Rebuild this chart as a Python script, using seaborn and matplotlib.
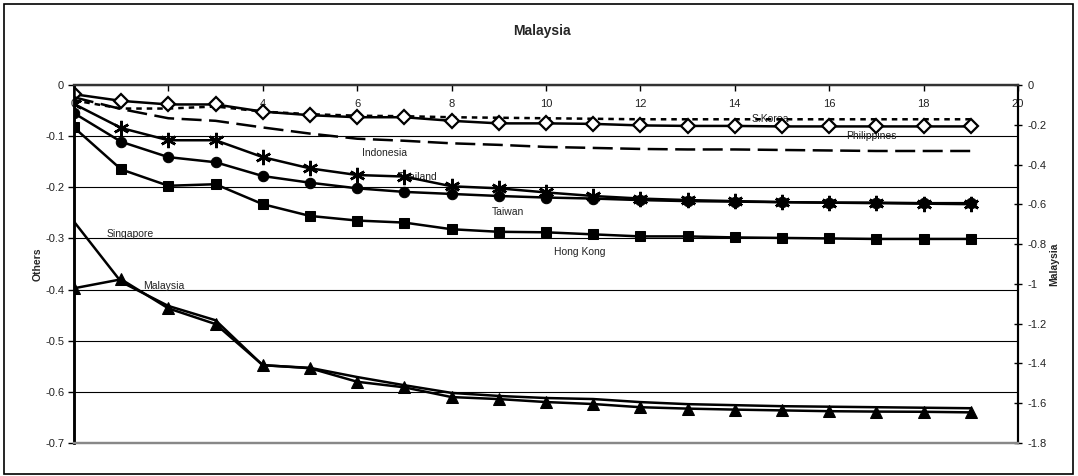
import matplotlib
matplotlib.use("Agg")
import matplotlib.pyplot as plt
from matplotlib.patches import Rectangle
import seaborn as sns

# ---- data -------------------------------------------------------------
periods = list(range(20))

s_korea = [-0.030, -0.046, -0.046, -0.042, -0.052, -0.057, -0.060, -0.061, -0.063, -0.064,
           -0.065, -0.066, -0.067, -0.067, -0.067, -0.067, -0.067, -0.067, -0.067, -0.067]
philippines = [-0.018, -0.031, -0.038, -0.038, -0.052, -0.059, -0.063, -0.063, -0.070, -0.075,
               -0.075, -0.076, -0.079, -0.080, -0.080, -0.081, -0.081, -0.081, -0.081, -0.081]
indonesia = [-0.024, -0.047, -0.065, -0.070, -0.083, -0.095, -0.105, -0.109, -0.114, -0.117,
             -0.121, -0.123, -0.125, -0.126, -0.126, -0.127, -0.128, -0.129, -0.129, -0.129]
thailand = [-0.037, -0.084, -0.108, -0.108, -0.141, -0.163, -0.176, -0.179, -0.198, -0.202,
            -0.210, -0.217, -0.222, -0.225, -0.227, -0.229, -0.230, -0.231, -0.232, -0.233]
taiwan = [-0.055, -0.111, -0.141, -0.151, -0.178, -0.191, -0.202, -0.209, -0.213, -0.217,
          -0.220, -0.222, -0.225, -0.227, -0.228, -0.229, -0.230, -0.230, -0.231, -0.231]
hong_kong = [-0.083, -0.165, -0.197, -0.194, -0.233, -0.256, -0.265, -0.269, -0.282, -0.287,
             -0.288, -0.292, -0.296, -0.296, -0.298, -0.299, -0.300, -0.301, -0.301, -0.301]
singapore = [-0.267, -0.385, -0.432, -0.460, -0.548, -0.553, -0.571, -0.587, -0.602, -0.608,
             -0.612, -0.614, -0.620, -0.624, -0.626, -0.628, -0.629, -0.630, -0.631, -0.632]
# Malaysia is read on the right-hand axis
malaysia = [-1.022, -0.977, -1.123, -1.202, -1.408, -1.424, -1.492, -1.520, -1.569, -1.579,
            -1.594, -1.604, -1.620, -1.627, -1.632, -1.636, -1.640, -1.642, -1.643, -1.646]

left_ticks = [0, -0.1, -0.2, -0.3, -0.4, -0.5, -0.6, -0.7]
left_tick_labels = ["0", "-0.1", "-0.2", "-0.3", "-0.4", "-0.5", "-0.6", "-0.7"]
right_ticks = [0, -0.2, -0.4, -0.6, -0.8, -1.0, -1.2, -1.4, -1.6, -1.8]
right_tick_labels = ["0", "-0.2", "-0.4", "-0.6", "-0.8", "-1", "-1.2", "-1.4", "-1.6", "-1.8"]
x_ticks = list(range(0, 21, 2))

series_names = ["S.Korea", "Philippines", "Indonesia", "Thailand", "Taiwan",
                "Hong Kong", "Singapore", "Malaysia"]

# ---- style --------------------------------------------------------------
sns.set_theme(style="white")
plt.rcParams["font.family"] = ["Liberation Sans", "DejaVu Sans"]

fig = plt.figure(figsize=(10.78, 4.76), dpi=100)
ax = fig.add_axes([0.0686, 0.0693, 0.8757, 0.7521])
ax2 = ax.twinx()

line_kw = dict(color="black", linewidth=1.8, legend=False)

left_series = [
    (s_korea, dict(marker=None)),
    (philippines, dict(marker="D", markersize=7, markerfacecolor="white",
                       markeredgecolor="black", markeredgewidth=1.6)),
    (indonesia, dict(marker=None)),
    (thailand, dict(marker=(6, 2, 0), markersize=11, markeredgewidth=1.8,
                    markeredgecolor="black")),
    (taiwan, dict(marker="o", markersize=7.5, markeredgecolor="black",
                  markerfacecolor="black")),
    (hong_kong, dict(marker="s", markersize=7.5, markeredgecolor="black",
                     markerfacecolor="black")),
    (singapore, dict(marker=None)),
]

for vals, kw in left_series:
    sns.lineplot(x=periods, y=vals, ax=ax, zorder=3, **line_kw, **kw)

lines = ax.get_lines()
lines[0].set_dashes((2.2, 2.0))   # S.Korea dotted
lines[2].set_dashes((8.0, 3.0))   # Indonesia long dash

sns.lineplot(x=periods, y=malaysia, ax=ax2, marker="^", markersize=8,
             markeredgecolor="black", markerfacecolor="black", zorder=3, **line_kw)

# ---- axes ---------------------------------------------------------------
ax.set_xlim(0, 20)
ax.set_ylim(-0.7, 0)
ax2.set_ylim(-1.8, 0)

ax.set_yticks(left_ticks)
ax.set_yticklabels(left_tick_labels)
ax2.set_yticks(right_ticks)
ax2.set_yticklabels(right_tick_labels)
ax.set_xticks(x_ticks)
ax.set_xticklabels([str(t) for t in x_ticks])

ax.xaxis.tick_top()
ax.tick_params(axis="x", which="both", direction="in", length=4, width=1,
               color="black", labelsize=8, labelcolor="#222222", pad=-17,
               top=True, bottom=False, labeltop=True, labelbottom=False)
ax.tick_params(axis="y", direction="out", length=4, width=1, color="black",
               labelsize=8, labelcolor="#222222", pad=3, left=True)
ax2.tick_params(axis="y", direction="inout", length=6, width=1, color="black",
                labelsize=8, labelcolor="#222222", pad=4, right=True)
ax.xaxis.set_zorder(1)

ax.grid(axis="y", color="black", linewidth=0.8)
ax.grid(axis="x", visible=False)
ax2.grid(False)
ax.set_axisbelow(True)

for a in (ax, ax2):
    a.spines["top"].set_color("#333333")
    a.spines["top"].set_linewidth(1.6)
    a.spines["bottom"].set_color("#888888")
    a.spines["bottom"].set_linewidth(1.6)
    a.spines["left"].set_color("black")
    a.spines["left"].set_linewidth(1.8)
    a.spines["right"].set_color("black")
    a.spines["right"].set_linewidth(1.5)
ax.patch.set_visible(False)

ax.set_ylabel("Others", fontsize=7.5, fontweight="bold", labelpad=2)
ax2.set_ylabel("Malaysia", fontsize=7.5, fontweight="bold", labelpad=2)
ax.set_xlabel("")

fig.text(0.503, 0.934, "Malaysia", ha="center", va="center",
         fontsize=10, fontweight="bold")

# ---- series name labels ----------------------------------------------
label_positions = [(14.75, -0.0665), (16.9, -0.100), (6.57, -0.132), (7.29, -0.180),
                   (9.20, -0.248), (10.72, -0.326), (1.19, -0.292), (1.91, -0.393)]
for name, (lx, ly) in zip(series_names, label_positions):
    ax.text(lx, ly, name, ha="center", va="center", fontsize=7.5,
            color="#222222", zorder=2)

# outer chart border
fig.add_artist(Rectangle((4 / 1078, 2 / 476), 1069 / 1078, 470 / 476,
                         transform=fig.transFigure, fill=False,
                         edgecolor="black", linewidth=1.2))

fig.savefig("out.png", dpi=100)
